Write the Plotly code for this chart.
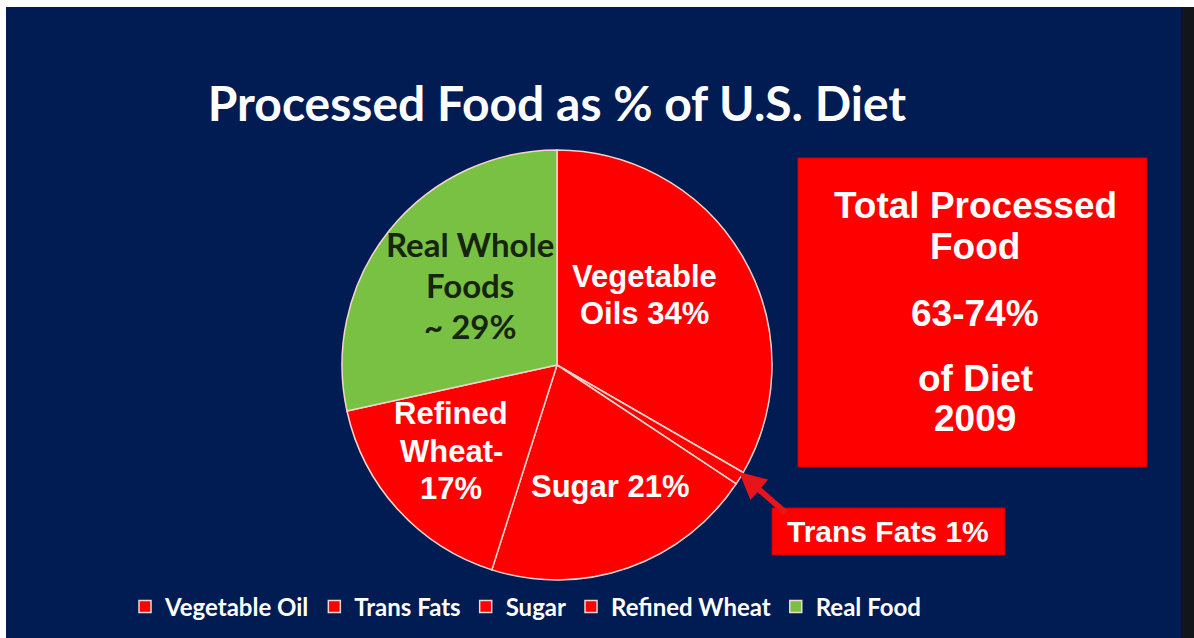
import plotly.graph_objects as go

# ---- data ----
legend_labels = ["Vegetable Oil", "Trans Fats", "Sugar", "Refined Wheat", "Real Food"]
shares = [34, 1, 21, 17, 29]
slice_colors = ["#fe0000", "#fe0000", "#fe0000", "#fe0000", "#79c143"]
title_text = "Processed Food as % of U.S. Diet"

W, H = 1194, 638
NAVY = "#011b53"
RED = "#fe0000"


def px(x):
    return x / W


def py(y):
    return 1 - y / H


cx, cy, r = 557, 365, 215

fig = go.Figure(
    go.Pie(
        labels=legend_labels,
        values=shares,
        sort=False,
        direction="clockwise",
        rotation=0,
        marker=dict(colors=slice_colors, line=dict(color="#f3d6cf", width=1.5)),
        textinfo="none",
        hoverinfo="label+percent",
        domain=dict(x=[px(cx - r), px(cx + r)], y=[py(cy + r), py(cy - r)]),
    )
)

AR = "Liberation Sans, Arial, sans-serif"
CAL = "Lato, Open Sans, sans-serif"

# (text, x, y, font family, size, color)
text_lines = [
    ("Real Whole", 470, 244, CAL, 33, "#17240f"),
    ("Foods", 470, 285, CAL, 33, "#17240f"),
    ("~ 29%", 470, 326, CAL, 33, "#17240f"),
    ("Vegetable", 644, 276, AR, 31, "white"),
    ("Oils 34%", 644, 313, AR, 31, "white"),
    ("Refined", 451, 413, AR, 31, "white"),
    ("Wheat-", 451, 451, AR, 31, "white"),
    ("17%", 451, 489, AR, 31, "white"),
    ("Sugar 21%", 610, 486, AR, 31, "white"),
    ("Total Processed", 975, 205, AR, 37, "white"),
    ("Food", 975, 246, AR, 37, "white"),
    ("63-74%", 975, 313, AR, 37, "white"),
    ("of Diet", 975, 378, AR, 37, "white"),
    ("2009", 975, 418, AR, 37, "white"),
    ("Trans Fats 1%", 888, 531, AR, 30, "white"),
]
annotations = [
    dict(xref="paper", yref="paper", x=px(x), y=py(y), text=t, showarrow=False,
         xanchor="center", yanchor="middle",
         font=dict(family=f, size=s, color=c, weight="bold"))
    for t, x, y, f, s, c in text_lines
]

# arrow pointing at the trans fats slice
annotations.append(dict(
    xref="paper", yref="paper", x=px(739), y=py(472), ax=48, ay=42,
    text="", showarrow=True, arrowhead=2, arrowsize=0.9, arrowwidth=6,
    arrowcolor="#e8141c",
))

shapes = [
    dict(type="rect", xref="paper", yref="paper",
         x0=px(798), x1=px(1147), y0=py(467), y1=py(158),
         fillcolor=RED, line=dict(color="#c80000", width=1), layer="below"),
    dict(type="rect", xref="paper", yref="paper",
         x0=px(772), x1=px(1005), y0=py(555), y1=py(508),
         fillcolor=RED, line=dict(color="#c80000", width=1), layer="below"),
    dict(type="rect", xref="paper", yref="paper", x0=0, x1=1, y0=py(7), y1=1,
         fillcolor="white", line=dict(width=0), layer="below"),
    dict(type="rect", xref="paper", yref="paper", x0=0, x1=px(6), y0=0, y1=1,
         fillcolor="white", line=dict(width=0), layer="below"),
    dict(type="rect", xref="paper", yref="paper", x0=px(1181), x1=1, y0=0, y1=py(7),
         fillcolor="#12161a", line=dict(width=0), layer="below"),
]

fig.update_layout(
    width=W, height=H,
    margin=dict(l=0, r=0, t=0, b=0, autoexpand=False),
    paper_bgcolor=NAVY,
    plot_bgcolor=NAVY,
    title=dict(text=title_text, x=px(557), xanchor="center", y=py(104), yanchor="middle",
               font=dict(family=CAL, size=48, color="white", weight="bold")),
    showlegend=True,
    legend=dict(orientation="h", x=px(125), xanchor="left", y=py(607), yanchor="middle",
                font=dict(family=CAL, size=24, color="white", weight="bold"),
                bgcolor="rgba(0,0,0,0)", traceorder="normal"),
    annotations=annotations,
    shapes=shapes,
)

fig.write_html("out.html")
